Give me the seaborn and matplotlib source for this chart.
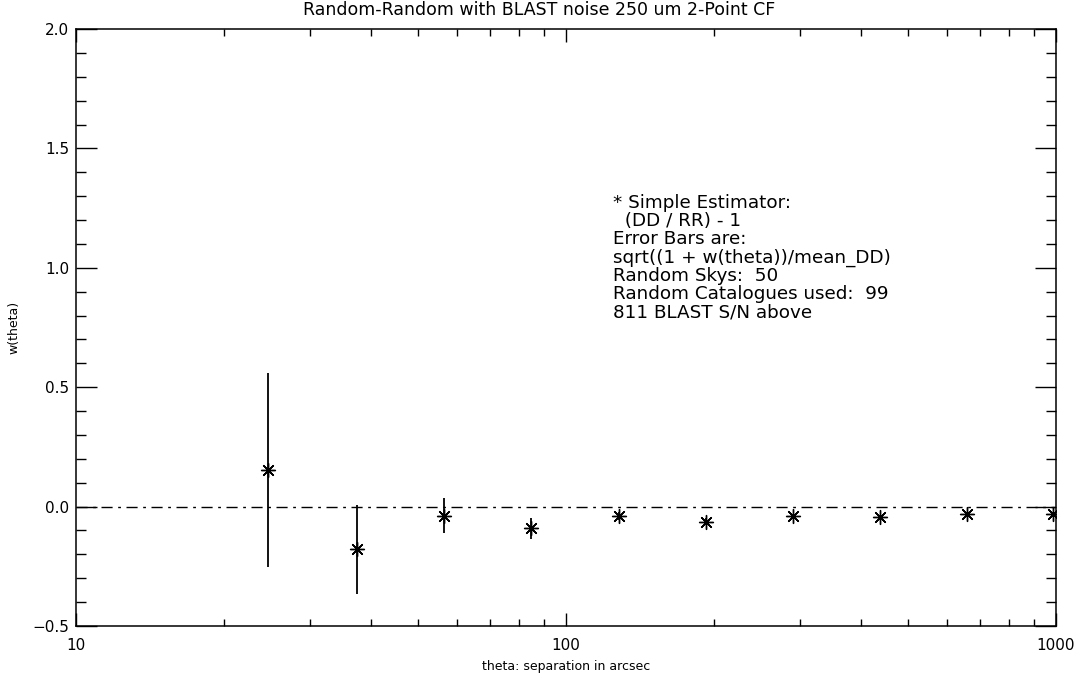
import numpy as np
import pandas as pd
import matplotlib
matplotlib.use("Agg")
import matplotlib.pyplot as plt
from matplotlib.ticker import FixedLocator, MultipleLocator, NullFormatter, FormatStrFormatter, FuncFormatter
import seaborn as sns

# Data
theta = [24.6, 37.4, 56.3, 84.7, 128.2, 193.0, 290.4, 437.9, 659.0, 986.0]
w_theta = [0.153, -0.179, -0.038, -0.090, -0.039, -0.063, -0.039, -0.044, -0.032, -0.032]
w_err = [0.407, 0.185, 0.072, 0.044, 0.018, 0.014, 0.010, 0.008, 0.006, 0.005]

title = "Random-Random with BLAST noise 250 um 2-Point CF"
xlabel = "theta: separation in arcsec"
ylabel = "w(theta)"
note_lines = [
    "* Simple Estimator:",
    "  (DD / RR) - 1",
    "Error Bars are:",
    "sqrt((1 + w(theta))/mean_DD)",
    "Random Skys:  50",
    "Random Catalogues used:  99",
    "811 BLAST S/N above",
]

df = pd.DataFrame({"theta": theta, "w": w_theta, "err": w_err})

sns.set_theme(style="ticks")
plt.rcParams["font.family"] = ["DejaVu Sans"]

W, H = 1081, 678
fig = plt.figure(figsize=(W / 100, H / 100), dpi=100)
ax = fig.add_axes([76 / W, 1 - 626 / H, (1056 - 76) / W, (626 - 29) / H])

ax.set_xscale("log")
ax.set_xlim(10, 1000)
ax.set_ylim(-0.5, 2.0)

ax.axhline(0.0, color="black", lw=1.0, ls=(0, (8, 4, 2, 4)), zorder=1)

ax.errorbar(df["theta"], df["w"], yerr=df["err"], fmt="none", ecolor="black",
            elinewidth=1.3, capsize=0, zorder=2)
sns.scatterplot(data=df, x="theta", y="w", marker=(8, 2, 0), s=100, color="black",
                linewidth=1.0, ax=ax, zorder=3, legend=False)

for sp in ax.spines.values():
    sp.set_color("black")
    sp.set_linewidth(1.1)

ax.yaxis.set_major_locator(MultipleLocator(0.5))
ax.yaxis.set_minor_locator(MultipleLocator(0.1))
ax.yaxis.set_major_formatter(FuncFormatter(lambda v, p: f"{v:.1f}".replace("-", "\u2212")))
ax.xaxis.set_major_locator(FixedLocator([10, 100, 1000]))
ax.xaxis.set_major_formatter(FormatStrFormatter("%d"))
ax.xaxis.set_minor_formatter(NullFormatter())

ax.tick_params(which="both", direction="in", top=True, right=True, color="black",
               labelsize=11, labelcolor="black", width=1.0)
ax.tick_params(axis="y", which="major", length=15, pad=5)
ax.tick_params(axis="y", which="minor", length=7)
ax.tick_params(axis="x", which="major", length=9.5, pad=9)
ax.tick_params(axis="x", which="minor", length=4.8)

ax.set_xlabel(xlabel, fontsize=9, labelpad=5, color="black")
ax.set_ylabel(ylabel, fontsize=9, color="black")
ax.yaxis.set_label_coords((20 - 76) / 980, 0.5)

fig.text(539 / W, 1 - 10 / H, title, fontsize=12.5, ha="center", va="center", color="black")

line_step = 18.2 / 597
for i, line in enumerate(note_lines):
    ax.text(0.548, 0.712 - i * line_step, line, transform=ax.transAxes, fontsize=13.2,
            va="center_baseline", ha="left", color="black")

fig.savefig("out.png", dpi=100, facecolor="white")
